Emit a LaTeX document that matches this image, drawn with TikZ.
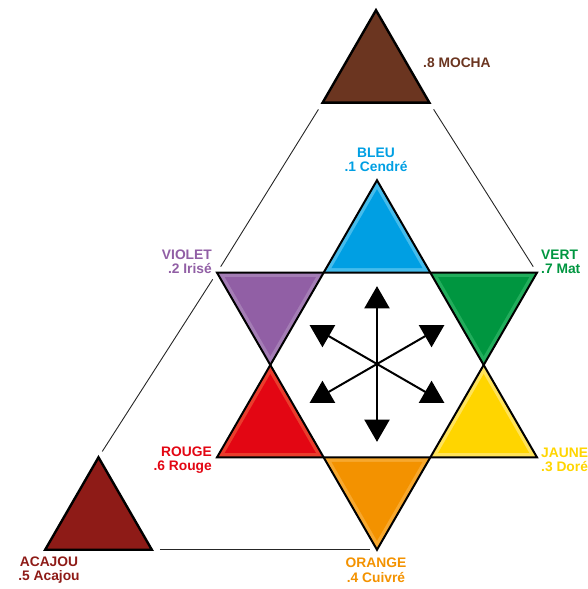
\documentclass[tikz,border=0pt]{standalone}
\usepackage{fontspec}
\setmainfont{Liberation Sans}
\usepackage{tikz}
\usetikzlibrary{calc}
\definecolor{bleu}{HTML}{009FE3}
\definecolor{bleuC}{HTML}{45BCEC}
\definecolor{vert}{HTML}{009640}
\definecolor{vertC}{HTML}{22AD5C}
\definecolor{jaune}{HTML}{FFD500}
\definecolor{jauneC}{HTML}{FFE35A}
\definecolor{orange}{HTML}{F39200}
\definecolor{orangeC}{HTML}{F7A82E}
\definecolor{rouge}{HTML}{E30613}
\definecolor{rougeC}{HTML}{EA3C2C}
\definecolor{violet}{HTML}{915FA5}
\definecolor{violetC}{HTML}{A47DB5}
\definecolor{mocha}{HTML}{6B3520}
\definecolor{acajou}{HTML}{8E1B17}
\tikzset{
  every picture/.style={line join=miter, line cap=butt},
  etiq/.style={font=\bfseries\fontsize{13.8}{14.5}\selectfont, inner sep=0pt},
  trait/.style={line width=0.9pt, black!85, shorten <=8pt, shorten >=7pt},
  contour/.style={line width=2pt},
  brun/.style={draw=black, line width=2.4pt},
  fleche/.style={line width=2pt},
}

\begin{document}
\begin{tikzpicture}[x=1pt,y=1pt]
\useasboundingbox (-377,-224) rectangle (211,365);
\coordinate (c) at (0,1);
\foreach \n/\a in {bleu/90,vert/30,jaune/-30,orange/-90,rouge/210,violet/150}{\coordinate (p\n) at (\a:184.75);}
\foreach \n/\x/\y in {mocha/-1/293.2,acajou/-278.5/-153.95}{
  \coordinate (\n-h) at ($(\x,\y)+(90:61.6)$);
  \coordinate (\n-g) at ($(\x,\y)+(210:61.6)$);
  \coordinate (\n-d) at ($(\x,\y)+(330:61.6)$);
}
\draw[trait] (mocha-g) -- (pviolet);
\draw[trait] (pviolet) -- (acajou-h);
\draw[trait] (mocha-d) -- (pvert);
\draw[trait] (acajou-d) -- (porange);
\filldraw[brun,fill=mocha] (mocha-h) -- (mocha-g) -- (mocha-d) -- cycle;
\filldraw[brun,fill=acajou] (acajou-h) -- (acajou-g) -- (acajou-d) -- cycle;
\foreach \a/\coul in {90/bleu,30/vert,-30/jaune,-90/orange,210/rouge,150/violet}{
  \fill[\coul C] (\a:184.75) -- (\a+30:106.67) -- (\a-30:106.67) -- cycle;
  \fill[\coul,shift={(\a:123.17)}] (\a:52.6) -- (\a+120:52.6) -- (\a-120:52.6) -- cycle;
}
\draw[contour] (pbleu) -- (pjaune) -- (prouge) -- cycle;
\draw[contour] (pviolet) -- (pvert) -- (porange) -- cycle;
\foreach \a/\r in {90/90,30/-90,150/-90,210/90,330/90,270/-90}{
  \draw[fleche] (c) -- ($(c)+(\a:60)$);
  \fill[shift={($(c)+(\a:63)$)}] (\r:14.8) -- (\r+120:14.8) -- (\r-120:14.8) -- cycle;
}
\node[etiq,anchor=west,text=mocha] (lmocha) at (46,302) {.8 MOCHA};
\node[etiq,align=center,text=bleu] (lbleu) at (-1,205) {BLEU\\.1 Cendré};
\node[etiq,align=right,anchor=east,text=violet] (lviolet) at (-165,103) {VIOLET\\.2 Irisé};
\node[etiq,align=left,anchor=west,text=vert] (lvert) at (164,103) {VERT\\.7 Mat};
\node[etiq,align=right,anchor=east,text=rouge] (lrouge) at (-165,-95) {ROUGE\\.6 Rouge};
\node[etiq,align=left,anchor=west,text=jaune] (ljaune) at (164,-95) {JAUNE\\.3 Doré};
\node[etiq,align=center,text=orange] (lorange) at (-1,-205) {ORANGE\\.4 Cuivré};
\node[etiq,align=center,text=acajou] (lacajou) at (-328,-205) {ACAJOU\\.5 Acajou};
\end{tikzpicture}
\end{document}
